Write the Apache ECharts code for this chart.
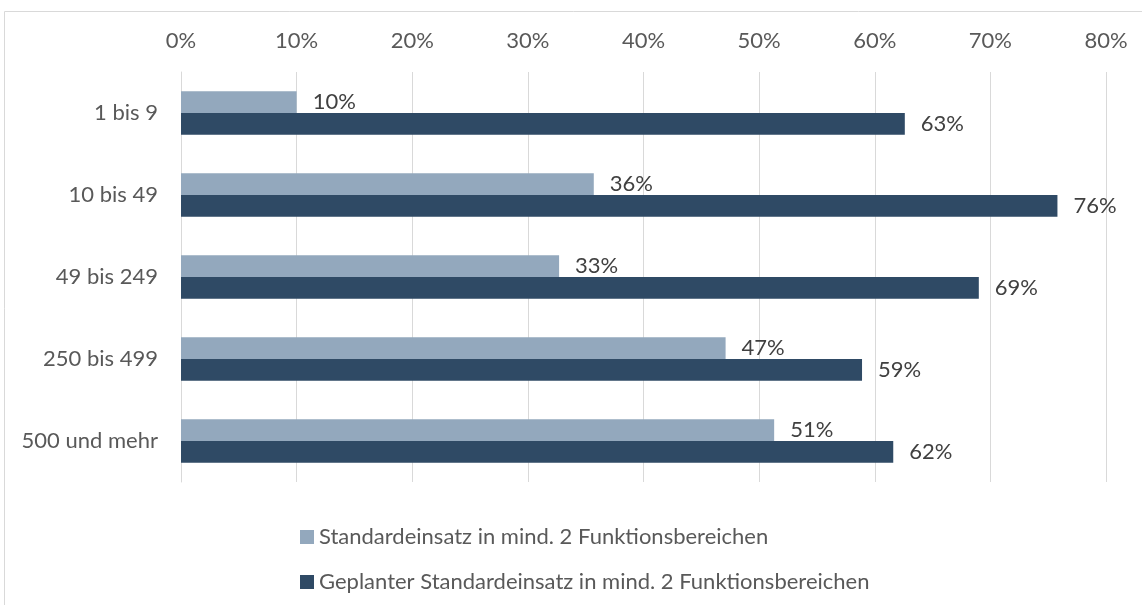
<!DOCTYPE html>
<html>
<head>
<meta charset="utf-8">
<script src="https://cdn.jsdelivr.net/npm/echarts@6/dist/echarts.min.js"></script>
<style>
  html, body { margin: 0; padding: 0; background: #fff; }
  #chart { width: 1142px; height: 605px; }
</style>
</head>
<body>
<div id="chart"></div>
<script>
const categories = ['1 bis 9', '10 bis 49', '49 bis 249', '250 bis 499', '500 und mehr']
const seriesNames = [
  'Standardeinsatz in mind. 2 Funktionsbereichen',
  'Geplanter Standardeinsatz in mind. 2 Funktionsbereichen'
]
const standardValues = [10.0, 35.7, 32.7, 47.1, 51.3]
const plannedValues = [62.6, 75.8, 69.0, 58.9, 61.6]

const font = 'Lato, "Open Sans", sans-serif'
const chart = echarts.init(document.getElementById('chart'), null, { renderer: 'canvas' })

const labelStyle = {
  show: true,
  position: 'right',
  distance: 16,
  color: '#404040',
  fontSize: 22,
  fontFamily: font,
  formatter: p => Math.round(p.value) + '%'
}

chart.setOption({
  animation: false,
  textStyle: { fontFamily: font },
  graphic: [{
    type: 'rect',
    silent: true,
    shape: { x: 4.5, y: 11.5, width: 1200, height: 700 },
    style: { fill: 'none', stroke: '#d9d9d9', lineWidth: 1 }
  }],
  grid: { left: 181, right: 36, top: 72, bottom: 123 },
  legend: {
    orient: 'vertical',
    left: 295,
    top: 521,
    itemWidth: 14,
    itemHeight: 14,
    itemGap: 23,
    icon: 'rect',
    textStyle: { color: '#595959', fontSize: 22, fontFamily: font },
    data: seriesNames
  },
  xAxis: {
    type: 'value',
    position: 'top',
    min: 0,
    max: 80,
    interval: 10,
    axisLine: { show: false },
    axisTick: { show: false },
    splitLine: { lineStyle: { color: '#d9d9d9', width: 1 } },
    axisLabel: {
      color: '#595959',
      fontSize: 22,
      fontFamily: font,
      margin: 20,
      formatter: '{value}%'
    }
  },
  yAxis: {
    type: 'category',
    inverse: true,
    data: categories,
    axisLine: { show: true, lineStyle: { color: '#d9d9d9' } },
    axisTick: { show: false },
    axisLabel: { color: '#595959', fontSize: 22, fontFamily: font, margin: 23 }
  },
  series: [
    {
      name: seriesNames[0],
      type: 'bar',
      data: standardValues,
      barGap: '0%',
      barCategoryGap: '47%',
      itemStyle: { color: '#93a8bd' },
      label: labelStyle
    },
    {
      name: seriesNames[1],
      type: 'bar',
      data: plannedValues,
      itemStyle: { color: '#2f4a65' },
      label: labelStyle
    }
  ]
})
</script>
</body>
</html>
